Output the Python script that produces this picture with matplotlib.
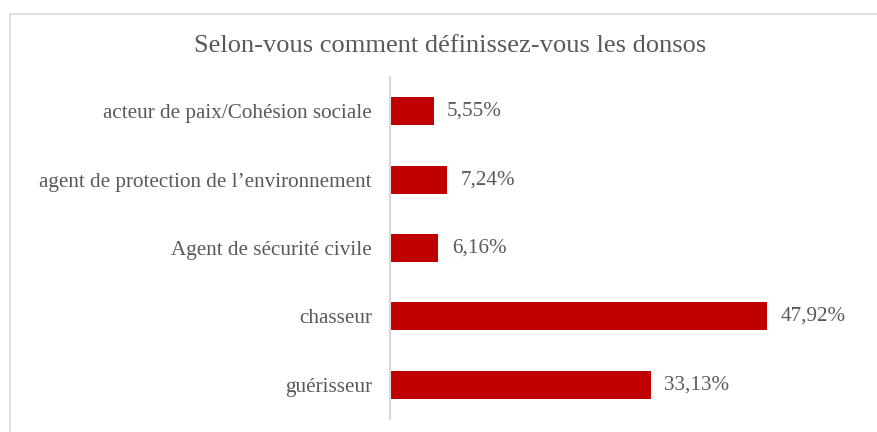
import matplotlib.pyplot as plt
from matplotlib.patches import Rectangle

categories = ["acteur de paix/Cohésion sociale",
              "agent de protection de l\u2019environnement",
              "Agent de sécurité civile",
              "chasseur",
              "guérisseur"]
values = [5.55, 7.24, 6.16, 47.92, 33.13]
value_labels = ["5,55%", "7,24%", "6,16%", "47,92%", "33,13%"]

plt.rcParams['font.family'] = ['Liberation Serif', 'DejaVu Serif']
grey_text = '#595959'
bar_red = '#C00000'

W, H = 877, 432
fig = plt.figure(figsize=(W / 100, H / 100), dpi=100)

# chart frame (only top and left edges fall inside the picture)
fig.patches.append(Rectangle((10 / W, -0.1), 1.2, (H - 14) / H + 0.1,
                             transform=fig.transFigure, fill=False,
                             edgecolor='#D9D9D9', linewidth=1.2))

ax = fig.add_axes([390 / W, 1 - 419 / H, (862 - 390) / W, (419 - 77) / H])
ypos = list(range(len(categories)))
ax.barh(ypos, values, height=0.41, color=bar_red)
ax.set_xlim(0, 60)
ax.set_ylim(len(categories) - 0.5, -0.5)

ax.set_yticks(ypos)
ax.set_yticklabels(categories, fontsize=15.2, color=grey_text)
ax.tick_params(axis='y', length=0, pad=13)
ax.set_xticks([])

for s in ['top', 'right', 'bottom']:
    ax.spines[s].set_visible(False)
ax.spines['left'].set_color('#D9D9D9')
ax.spines['left'].set_linewidth(1.5)

for y, v, lab in zip(ypos, values, value_labels):
    ax.annotate(lab, (v, y), xytext=(9.5, 0), textcoords='offset points',
                ha='left', va='center', fontsize=15.2, color=grey_text)

fig.text(450 / W, 1 - 46 / H, "Selon-vous comment définissez-vous les donsos",
         ha='center', va='center', fontsize=19, color=grey_text)

fig.savefig('out.png', dpi=100)
